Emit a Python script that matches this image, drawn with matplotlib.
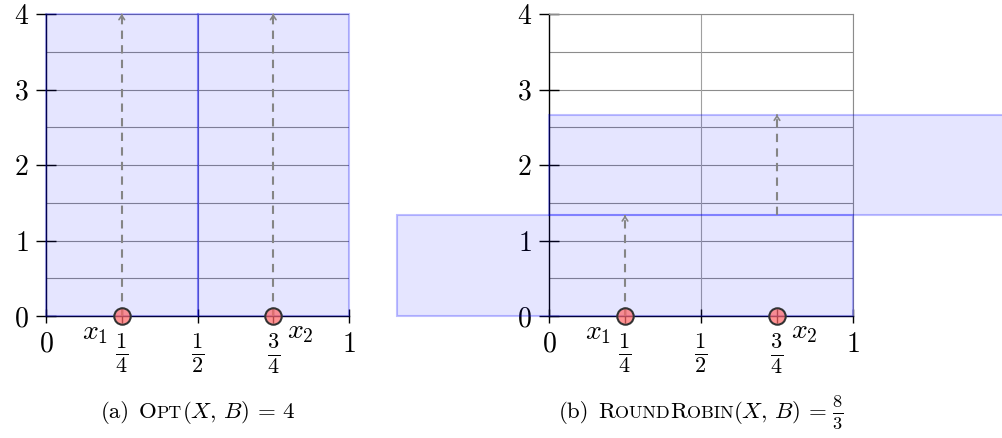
import numpy as np
import matplotlib
matplotlib.use("Agg")
from matplotlib import pyplot as plt
from matplotlib.patches import Rectangle

plt.rcParams['mathtext.fontset'] = 'cm'
plt.rcParams['font.family'] = 'serif'
plt.rcParams['font.serif'] = ['cmr10']
plt.rcParams['axes.formatter.use_mathtext'] = True
#--------------------------------------------------------------------------
POINTS_X = [0.25, 0.75]
POINT_NAMES = [r'$x_1$', r'$x_2$']
X_TICKS = [0, 0.25, 0.5, 0.75, 1]
X_TICK_LABELS = [r'$0$', r'$\frac{1}{4}$', r'$\frac{1}{2}$', r'$\frac{3}{4}$', r'$1$']
Y_TICKS = [0, 1, 2, 3, 4]
GRID_Y = [0.5, 1, 1.5, 2, 2.5, 3, 3.5, 4]
GRID_X = [0.5, 1]

# Opt : one box per point
OPT_LEFT = [0.0, 0.5]
OPT_WIDTH = [0.5, 0.5]
OPT_BOTTOM = [0.0, 0.0]
OPT_HEIGHT = [4.0, 4.0]
OPT_ARROW_FROM = [0.0, 0.0]
OPT_ARROW_TO = [4.0, 4.0]

# round robin boxes
RR_LEFT = [-0.5, 0.0]
RR_WIDTH = [1.5, 1.5]
RR_BOTTOM = [0.0, 4/3]
RR_HEIGHT = [4/3, 4/3]
RR_ARROW_FROM = [0.0, 4/3]
RR_ARROW_TO = [4/3, 8/3]

CAP = 16.5
SC = 13.0
# None = horizontal gap in pixels
CAPTION_A = [('(a)', CAP), (None, 9), ('O', CAP), ('PT', SC),
             (r'$(X,\,B)\,=\,4$', CAP)]
CAPTION_B = [('(b)', CAP), (None, 9), ('R', CAP), ('OUND', SC), ('R', CAP), ('OBIN', SC),
             (r'$(X,\,B)\,=$', CAP), (None, 5), (r'$\frac{8}{3}$', 19)]
#--------------------------------------------------------------------------
W, H = 1003, 438
FS = 20
FRAC_FS = 23


def setup_axes(ax):
    ax.set_xlim(0, 1)
    ax.set_ylim(0, 4)
    for y in GRID_Y:
        ax.axhline(y, color='#8c8c8c', lw=0.8, zorder=1)
    for x in GRID_X:
        ax.axvline(x, color='#a0a0a0', lw=0.8, zorder=1)
    for s in ['top', 'right']:
        ax.spines[s].set_visible(False)
    ax.spines['left'].set_linewidth(1.0)
    ax.spines['bottom'].set_linewidth(1.0)
    ax.set_xticks(X_TICKS)
    ax.set_xticklabels(X_TICK_LABELS)
    ax.set_yticks(Y_TICKS)
    ax.set_yticklabels([r'$%d$' % v for v in Y_TICKS])
    ax.tick_params(axis='y', direction='inout', length=15, width=1, pad=5, labelsize=FS)
    ax.tick_params(axis='x', direction='inout', length=10, width=1, pad=6, labelsize=FS)
    for lbl in ax.get_xticklabels():
        if 'frac' in lbl.get_text():
            lbl.set_fontsize(FRAC_FS)


def draw_panel(ax, lefts, widths, bottoms, heights, a_from, a_to):
    setup_axes(ax)
    for l, w, b, h in zip(lefts, widths, bottoms, heights):
        ax.add_patch(Rectangle((l, b), w, h, facecolor=(0, 0, 1, 0.1),
                               edgecolor=(0, 0, 1, 0.25), lw=1.5, zorder=3, clip_on=False))
    for x, y0, y1 in zip(POINTS_X, a_from, a_to):
        ax.plot([x, x], [y0, y1 - 0.03], color='#858585', lw=1.5, ls=(0, (4, 3)),
                zorder=4, clip_on=False)
        ax.annotate('', xy=(x, y1), xytext=(x, y1 - 0.05),
                    arrowprops=dict(arrowstyle='->,head_length=0.3,head_width=0.2',
                                    color='#858585', lw=1.2), zorder=4)
    ax.scatter(POINTS_X, [0, 0], s=140, facecolor=(1, 0.4, 0.4, 0.7),
               edgecolor='#333333', lw=1.5, zorder=5, clip_on=False)
    ax.annotate(POINT_NAMES[0], xy=(POINTS_X[0], 0), xytext=(-27, -17),
                textcoords='offset pixels', ha='center', va='center', fontsize=FS)
    ax.annotate(POINT_NAMES[1], xy=(POINTS_X[1], 0), xytext=(27, -16),
                textcoords='offset pixels', ha='center', va='center', fontsize=FS)


def caption(fig, xc, yb, pieces):
    r = fig.canvas.get_renderer()
    items = []
    for s, sz in pieces:
        if s is None:
            items.append((None, sz))
        else:
            t = fig.text(0, yb, s, fontsize=sz, va='baseline', ha='left')
            items.append((t, t.get_window_extent(r).width))
    x = xc * W - sum(w for _, w in items) / 2
    for t, w in items:
        if t is not None:
            t.set_x(x / W)
        x += w


fig = plt.figure(figsize=(W / 100, H / 100), dpi=100)
ax1 = fig.add_axes([46 / W, (H - 316) / H, 303 / W, 302 / H])
ax2 = fig.add_axes([549 / W, (H - 316) / H, 304 / W, 302 / H])

draw_panel(ax1, OPT_LEFT, OPT_WIDTH, OPT_BOTTOM, OPT_HEIGHT, OPT_ARROW_FROM, OPT_ARROW_TO)
draw_panel(ax2, RR_LEFT, RR_WIDTH, RR_BOTTOM, RR_HEIGHT, RR_ARROW_FROM, RR_ARROW_TO)
# right panel keeps a thin grey frame at top and right
ax2.spines['top'].set_visible(True)
ax2.spines['right'].set_visible(True)
ax2.spines['top'].set_color('#8c8c8c')
ax2.spines['right'].set_color('#8c8c8c')
ax2.spines['top'].set_linewidth(0.8)
ax2.spines['right'].set_linewidth(0.8)

caption(fig, 198 / W, (H - 418) / H, CAPTION_A)
caption(fig, 701 / W, (H - 418) / H, CAPTION_B)

fig.savefig('out.png', dpi=100)
